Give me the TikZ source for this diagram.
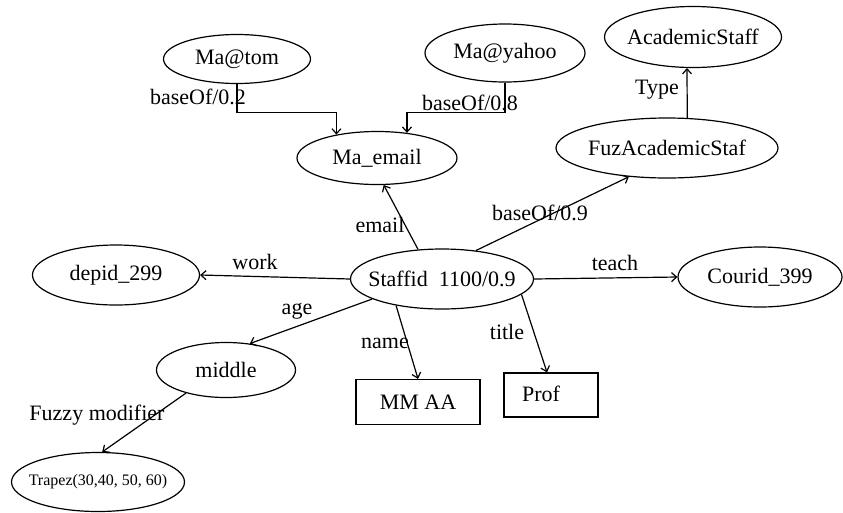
\documentclass[tikz,border=0pt]{standalone}
\usepackage{fontspec}
\setmainfont{Liberation Serif}
\usetikzlibrary{shapes.geometric,arrows.meta}

\begin{document}
\begin{tikzpicture}[x=1pt, y=-1pt, line width=1.2pt,
  every node/.style={font=\fontsize{22}{26}\selectfont},
  ent/.style={ellipse, draw, inner sep=-18pt},
  box/.style={rectangle, draw, inner sep=0pt},
  rel/.style={-{Straight Barb[length=5pt,width=9pt]}}]
\useasboundingbox (0,0) rectangle (843,512);

% entities
\node[ent, minimum width=147pt, minimum height=49pt] (tom) at (237,59) {Ma@tom};
\node[ent, minimum width=160pt, minimum height=58pt] (yahoo) at (505,53) {Ma@yahoo};
\node[ent, minimum width=177pt, minimum height=61pt] (acad) at (693,37) {AcademicStaff};
\node[ent, minimum width=222pt, minimum height=60pt] (fuz) at (667,148) {FuzAcademicStaf};
\node[ent, minimum width=160pt, minimum height=53pt] (email) at (377,158) {Ma\_email};
\node[ent, minimum width=183pt, minimum height=60pt] (staff) at (442,279) {Staffid\ \ 1100/0.9};
\node[ent, minimum width=167pt, minimum height=60pt] (dep) at (116,275) {depid\_299};
\node[ent, minimum width=164pt, minimum height=60pt] (cour) at (760,277) {Courid\_399};
\node[ent, minimum width=139pt, minimum height=55pt] (mid) at (226,370) {middle};
\node[ent, minimum width=173pt, minimum height=59pt, font=\fontsize{16}{19}\selectfont] (trap) at (98,482) {Trapez(30,40, 50, 60)};
\node[box, minimum width=124pt, minimum height=45pt] (mm) at (418,402) {MM AA};
\node[box, minimum width=94pt, minimum height=44pt] (prof) at (551,395) {\raisebox{3pt}{Prof}\kern20pt};

% labels
\node (lbtom) at (198,97) {baseOf/0.2};
\node (lbyah) at (470,103) {baseOf/0.8};
\node (ltype) at (657,90) {Type};
\node (lemail) at (380,225) {email};
\node (lbfuz) at (540,213) {baseOf/0.9};
\node (lwork) at (255,262) {work};
\node (lteach) at (615,263) {teach};
\node (lage) at (297,311) {age};
\node (lname) at (385,343) {name};
\node (ltitle) at (507,332) {title};
\node (lfuzzy) at (97,415) {Fuzzy modifier};

% relations
\draw[rel] (tom.south) -- ++(0,28.5) -| (email.150);
\draw[rel] (yahoo.south) -- ++(0,30) -| (email.40);
\draw[rel] (fuz.56) -- (acad.259);
\draw[rel] (staff.129) -- (email.284);
\draw[rel] (staff.40) -- (fuz.217);
\draw[rel] (staff.west) -- (dep.east);
\draw[rel] (staff.east) -- (cour.west);
\draw[rel] (staff.196) -- (mid.48);
\draw[rel] (staff.210) -- (mm.north);
\draw[rel] (staff.349) -- (prof.100);
\draw[rel] (mid.210) -- (trap.82);
\end{tikzpicture}
\end{document}
